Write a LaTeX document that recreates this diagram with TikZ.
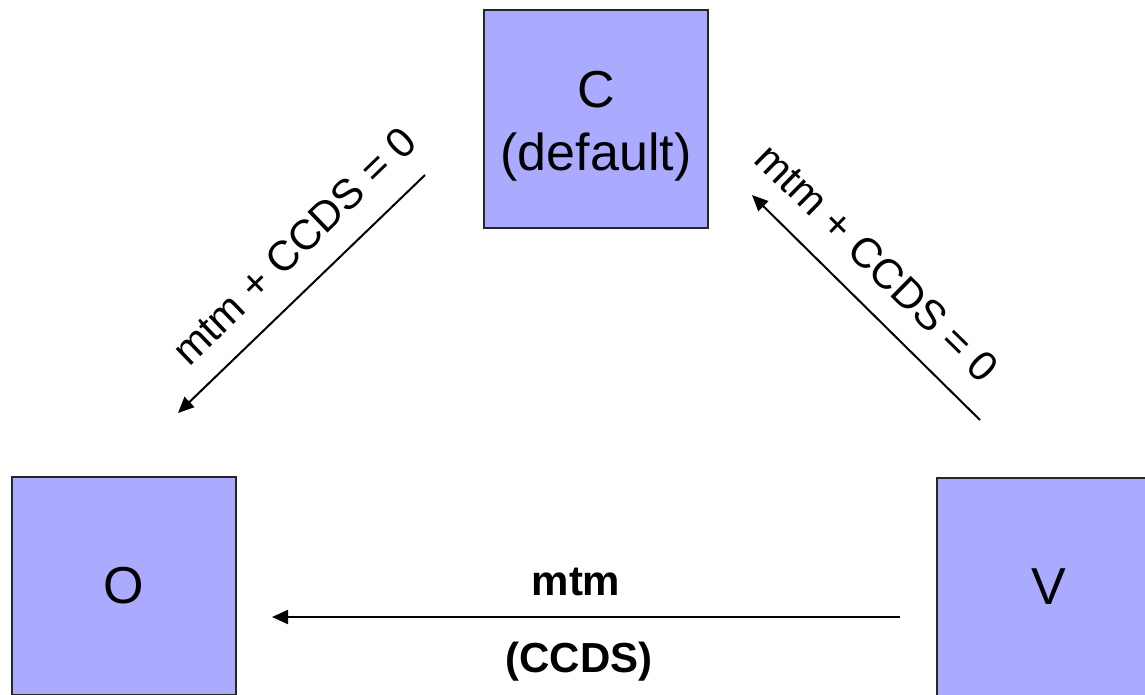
\documentclass[tikz,border=0pt]{standalone}
\usepackage{fontspec}
\setmainfont{Liberation Sans}
\usetikzlibrary{arrows.meta}
\definecolor{boxfill}{RGB}{170,170,255}
\begin{document}
\begin{tikzpicture}[x=0.75pt,y=-0.75pt,
  statebox/.style={draw=black!85,line width=0.9pt,fill=boxfill,minimum width=168pt,minimum height=163.5pt,inner sep=0pt,align=center,font=\fontsize{39}{47}\selectfont},
  edgelabel/.style={font=\fontsize{31.5}{38}\selectfont,inner sep=0pt},
  boldlabel/.style={font=\fontsize{31.5}{38}\selectfont\bfseries,inner sep=0pt,anchor=base},
  trans/.style={line width=1.5pt,-{Triangle[length=12pt,width=10.5pt]}}]
\clip (0,0) rectangle (1145,694);
\fill[white] (0,0) rectangle (1145,694);
\node[statebox] (C) at (596,119) {\mbox{}\\[-8.5pt]C\\(default)};
\node[statebox] (O) at (124,586) {O};
\node[statebox] (V) at (1049,587) {V};
\coordinate (cl1) at (425,175);
\coordinate (cl2) at (178,413);
\coordinate (vr1) at (980,420);
\coordinate (vr2) at (752,195);
\coordinate (vo1) at (900,617);
\coordinate (vo2) at (272,617);
\draw[trans] (cl1) -- (cl2);
\draw[trans] (vr1) -- (vr2);
\draw[trans] (vo1) -- (vo2);
\node[edgelabel,rotate=44] (lblL) at (294,246) {mtm + CCDS = 0};
\node[edgelabel,rotate=-44.5] (lblR) at (877,263) {mtm + CCDS = 0};
\node[boldlabel] (lblB1) at (576,595) {mtm};
\node[boldlabel] (lblB2) at (579,672) {(CCDS)};
\end{tikzpicture}
\end{document}
